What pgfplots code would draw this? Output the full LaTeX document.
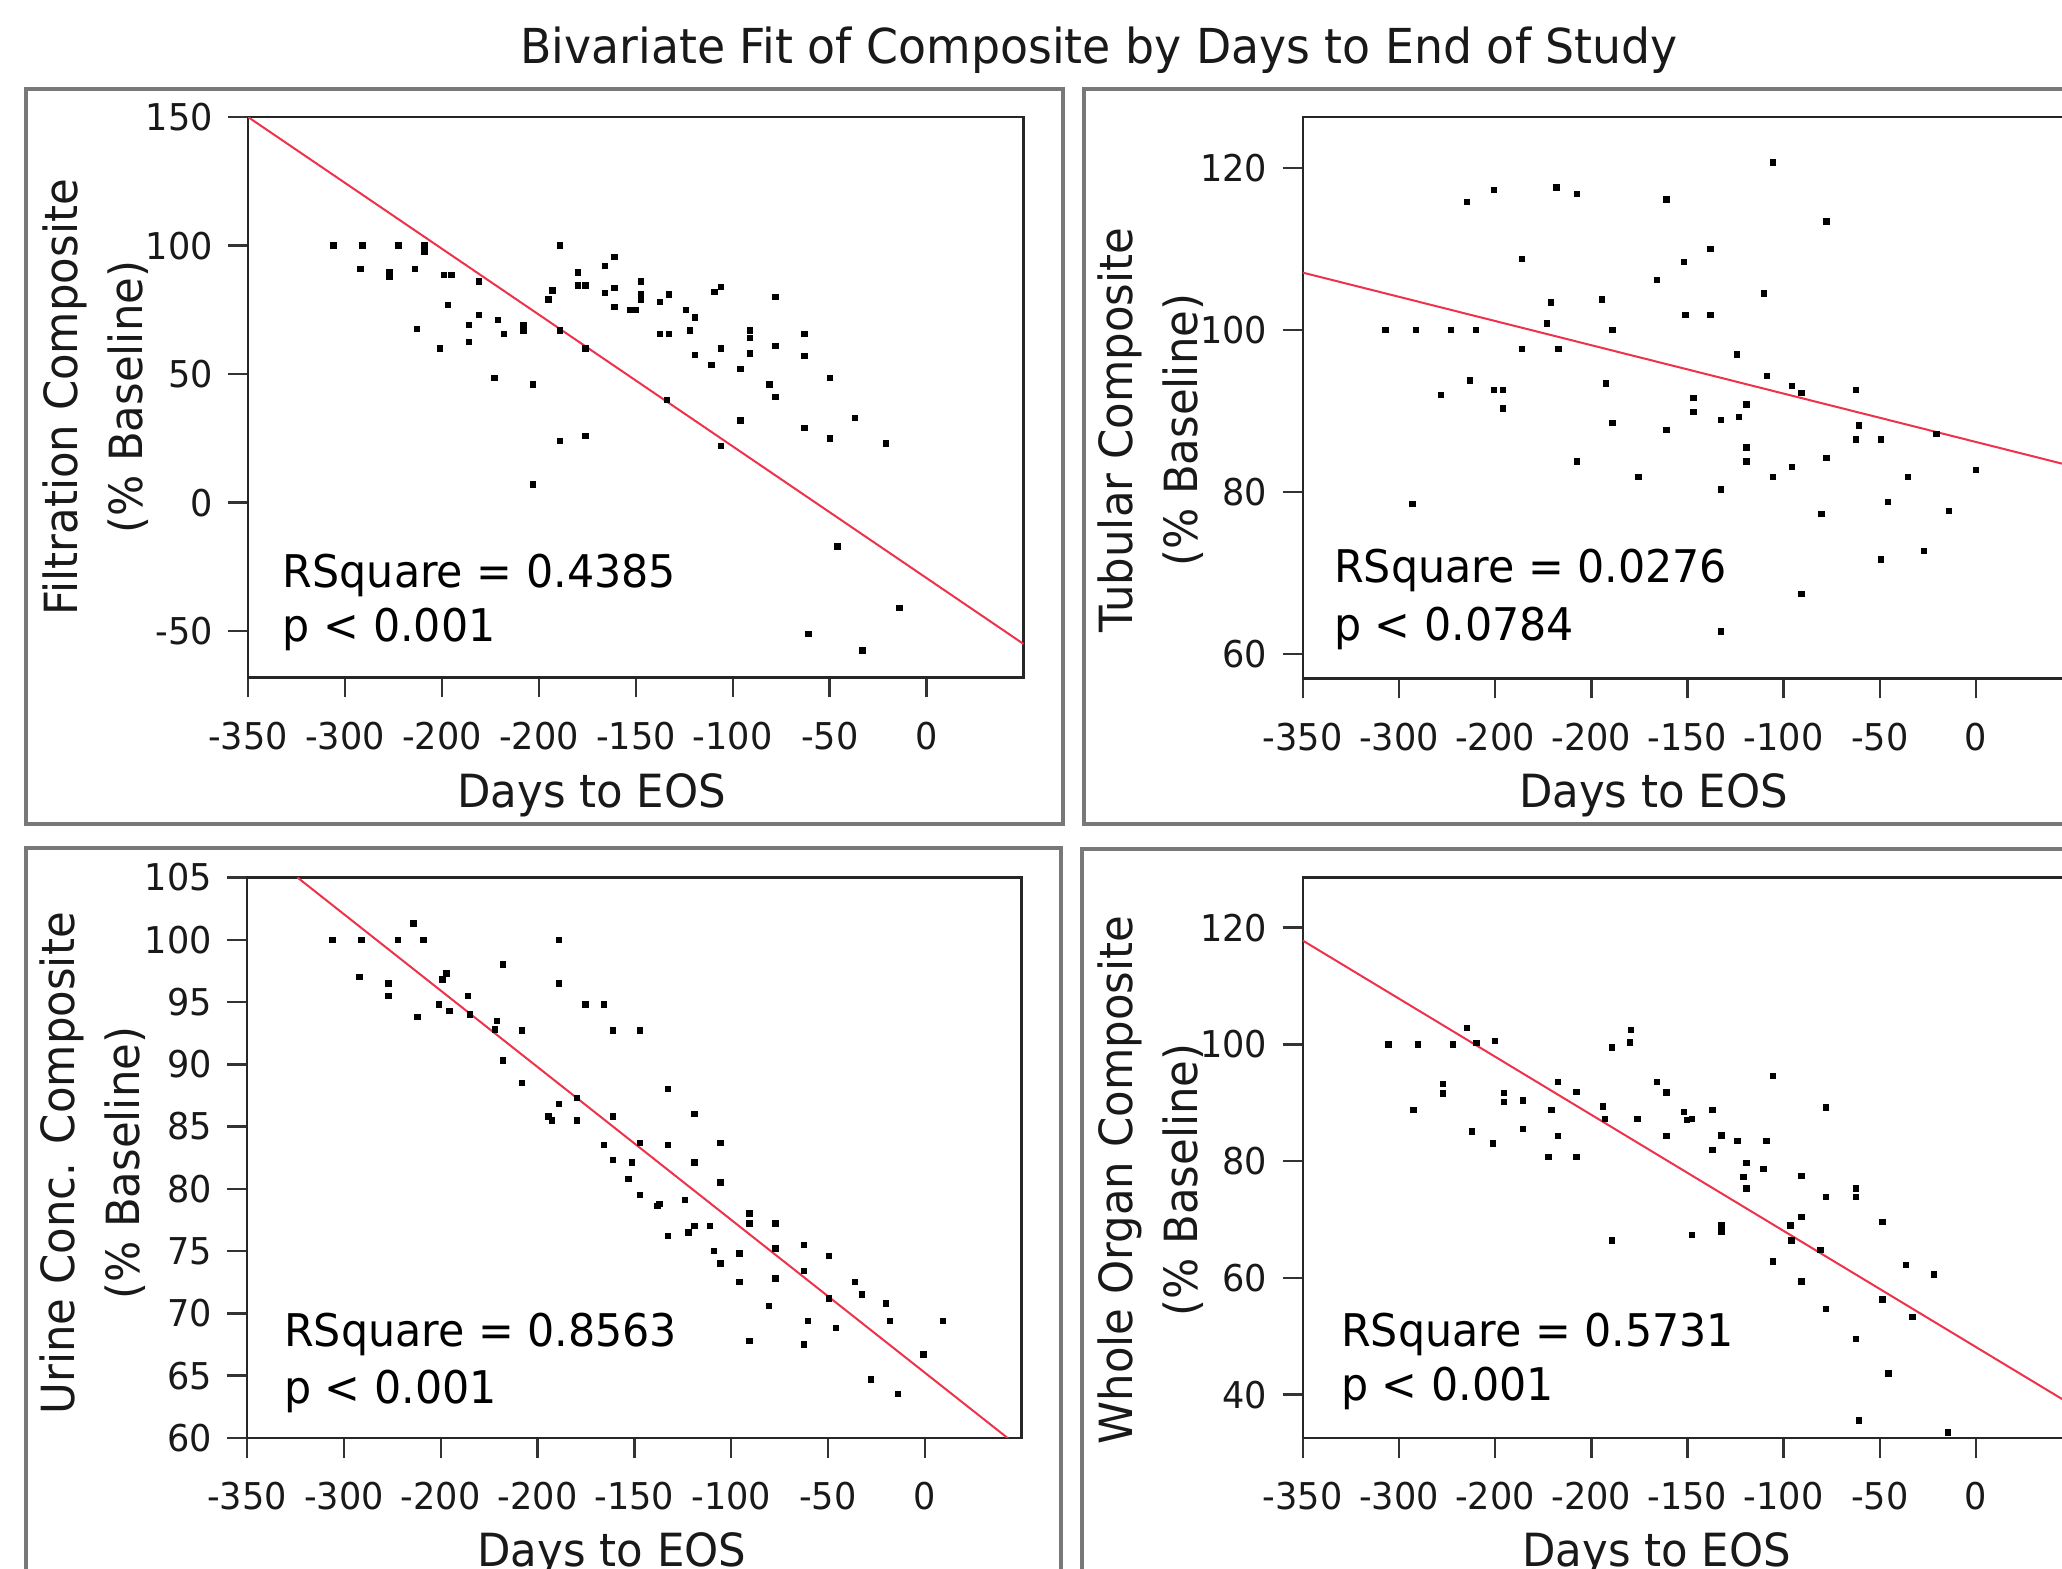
\documentclass[border=0pt]{standalone}
\usepackage{pgfplots}
\pgfplotsset{compat=1.18}
\usepackage{fontspec}
\setmainfont{DejaVu Sans}[FakeStretch=0.95]

\definecolor{fitred}{RGB}{238,50,75}
\definecolor{framegray}{RGB}{120,120,120}
\newcommand\annfont{\fontsize{12.8}{15}\selectfont}

\pgfplotsset{
  panel/.style={
    scale only axis, anchor=north west,
    xmin=-350, xmax=50,
    xtick={-350,-300,-250,-200,-150,-100,-50,0},
    xticklabels={-350,-300,-200,-200,-150,-100,-50,0},
    tick align=outside, xtick pos=left, ytick pos=left,
    major tick length=0.2cm,
    tick style={black!80, line width=0.025cm},
    axis line style={black!85, line width=0.025cm},
    ticklabel style={font=\fontsize{10.5}{12}\selectfont, text=black!90},
    xticklabel shift=0.12cm, yticklabel shift=0.03cm,
    label style={font=\fontsize{13}{18.5}\selectfont, text=black!90},
    ylabel style={align=center, anchor=center},
    xlabel style={anchor=base},
    xlabel={Days to EOS},
    clip=true,
  },
  dots/.style={only marks, mark=square*, mark size=0.025cm, black},
  fit/.style={no marks, fitred, line width=0.02cm},
}

\begin{document}
\begin{tikzpicture}[x=0.01cm,y=-0.01cm]
\useasboundingbox (0,0) rectangle (2062,1569);
\fill[white] (0,0) rectangle (2062,1569);
\clip (0,0) rectangle (2062,1569);

\node[anchor=base, font=\fontsize{13.7}{16}\selectfont, text=black!90] at (1099,63) {Bivariate Fit of Composite by Days to End of Study};

\draw[framegray, line width=0.045cm] (26,89) rectangle (1063,824);
\draw[framegray, line width=0.045cm] (1084,89) rectangle (2150,824);
\draw[framegray, line width=0.045cm] (26,848) rectangle (1061,1650);
\draw[framegray, line width=0.045cm] (1082,849) rectangle (2150,1650);

% ---------- Top left: Filtration ----------
\begin{axis}[panel, at={(2.48cm,-1.17cm)}, width=7.75cm, height=5.60cm,
  ymin=-68, ymax=150,
  ytick={-50,0,50,100,150}, yticklabels={-50,0,50,100,150},
  ylabel={Filtration Composite\\(\% Baseline)},
  ylabel style={at={(axis description cs:-0.197,0.5)}},
  xlabel style={at={(axis description cs:0.443,-0.232)}}]
\addplot[dots] coordinates {
(-306,100) (-291,100) (-272.5,100) (-259,100) (-189,100) (-259,97.5)
(-292,91) (-277,89.5) (-277,88) (-264,91) (-249,88.5) (-245,88.5) (-231,86)
(-193,82.5) (-195,79) (-189,67) (-180,84.5) (-176,84.5) (-180,89.5)
(-166,92) (-161,95.5) (-166,81.5) (-161,83.5) (-161,76)
(-153,75) (-150,75) (-147.5,86) (-147.5,81) (-147.5,79)
(-137.5,78) (-133,81) (-137.5,65.5) (-133,65.5)
(-124,75) (-122,67) (-119.5,72) (-119.5,57.5)
(-111,53.5) (-109.5,82) (-106,84) (-106,60) (-96,52) (-96,32) (-106,22)
(-91,67) (-91,64) (-91,58)
(-81,46) (-78,41) (-78,61) (-78,80)
(-63,65.5) (-63,57) (-63,29)
(-50,48.5) (-50,25) (-37,33) (-21,23)
(-46,-17) (-61,-51) (-33,-57.5) (-14,-41)
(-203,46) (-203,7) (-189,24) (-176,26) (-134,40)
(-263,67.5) (-251,60) (-247,77) (-236,69) (-236,62.5) (-231,73) (-223,48.5)
(-221,71) (-218,65.5) (-208,69) (-208,67) (-176,60)
};
\addplot[fit] coordinates {(-350,150) (50,-55)};
\node[anchor=base west, inner xsep=0pt, font=\annfont] at (rel axis cs:0.044,0.161) {RSquare = 0.4385};
\node[anchor=base west, inner xsep=0pt, font=\annfont] at (rel axis cs:0.044,0.064) {p < 0.001};
\end{axis}

% ---------- Top right: Tubular ----------
\begin{axis}[panel, at={(13.02cm,-1.17cm)}, width=7.69cm, height=5.61cm,
  ymin=57, ymax=126.3,
  ytick={60,80,100,120}, yticklabels={60,80,100,120},
  ylabel={Tubular Composite\\(\% Baseline)},
  ylabel style={at={(axis description cs:-0.198,0.442)}},
  xlabel style={at={(axis description cs:0.456,-0.23)}}]
\addplot[dots] coordinates {
(-307,100) (-291,100) (-273,100) (-260,100) (-293,78.5) (-278,92)
(-264.5,115.8) (-263,93.8) (-250.5,117.3) (-250.5,92.6) (-246,92.6) (-246,90.3)
(-236,108.8) (-236,97.7) (-221,103.4) (-223,100.8) (-218,117.6) (-217,97.7)
(-207.5,116.8) (-207.5,83.8) (-194.4,103.8) (-192.5,93.4) (-189,100) (-189,88.5)
(-175.5,81.9) (-165.7,106.2) (-160.8,116.1) (-160.8,87.7) (-151.7,108.4) (-151,101.9)
(-146.8,91.6) (-146.8,89.9) (-138,110) (-138,101.9) (-132.5,88.9) (-132.5,80.3)
(-132.5,62.8) (-124.3,97) (-123.3,89.3) (-119.4,90.8) (-119.4,85.5) (-119.4,83.8)
(-110.3,104.5) (-108.6,94.3) (-105.4,120.7) (-105.4,81.9) (-95.6,93.1) (-90.7,92.2)
(-95.6,83.1) (-90.7,67.4) (-80.3,77.3) (-77.7,113.4) (-77.7,84.2) (-62.3,92.6)
(-60.7,88.2) (-62.3,86.5) (-49.3,86.5) (-49.3,71.7) (-45.7,78.8) (-35.3,81.9)
(-27.1,72.7) (-20.6,87.2) (-14,77.7) (0,82.7)
};
\addplot[fit] coordinates {(-350,107.1) (50,83.2)};
\node[anchor=base west, inner xsep=0pt, font=\annfont] at (rel axis cs:0.040,0.17) {RSquare = 0.0276};
\node[anchor=base west, inner xsep=0pt, font=\annfont] at (rel axis cs:0.040,0.067) {p < 0.0784};
\end{axis}

% ---------- Bottom left: Urine Conc. ----------
\begin{axis}[panel, at={(2.47cm,-8.77cm)}, width=7.74cm, height=5.60cm,
  ymin=60, ymax=105,
  ytick={60,65,70,75,80,85,90,95,100,105},
  yticklabels={60,65,70,75,80,85,90,95,100,105},
  ylabel={Urine Conc. Composite\\(\% Baseline)},
  ylabel style={at={(axis description cs:-0.199,0.49)}},
  xlabel style={at={(axis description cs:0.471,-0.229)}}]
\addplot[dots] coordinates {
(-306,100) (-291,100) (-292,97.0) (-277,96.5) (-277,95.5) (-272,100)
(-264,101.3) (-262,93.8) (-259,100) (-249,96.8) (-247,97.3) (-251,94.8)
(-245.5,94.3) (-236,95.5) (-235,94) (-221,93.5) (-222,92.8) (-218,98.0)
(-218,90.3) (-208,92.7) (-208,88.5) (-194.4,85.8) (-192.6,85.5) (-189,100)
(-189,96.5) (-189,86.8) (-179.6,87.3) (-179.6,85.5) (-175.3,94.8) (-165.8,94.8)
(-165.8,83.5) (-161,92.7) (-161,85.8) (-161,82.3) (-153,80.8) (-151.3,82.1)
(-147,92.7) (-147,83.7) (-147,79.5) (-138,78.6) (-137,78.8) (-132.6,88.0)
(-132.6,83.5) (-132.6,76.2) (-123.8,79.1) (-122,76.5) (-119,86.0) (-119,82.1)
(-119,77.0) (-110.8,77.0) (-109,75.0) (-105.5,83.7) (-105.5,80.5) (-105.5,74.0)
(-95.6,74.8) (-95.6,72.5) (-90.6,78.0) (-90.6,77.2) (-90.6,67.8) (-80.4,70.6)
(-77.2,77.2) (-77.2,75.2) (-77.2,72.8) (-62.4,75.5) (-62.4,73.4) (-60.3,69.4)
(-62.4,67.5) (-49.4,74.6) (-49.4,71.2) (-45.8,68.8) (-36,72.5) (-32.4,71.5)
(-27.8,64.7) (-20,70.8) (-18,69.4) (-13.7,63.5) (-0.7,66.7) (9.5,69.4)
};
\addplot[fit] coordinates {(-324,105) (50,59.1)};
\node[anchor=base west, inner xsep=0pt, font=\annfont] at (rel axis cs:0.047,0.1625) {RSquare = 0.8563};
\node[anchor=base west, inner xsep=0pt, font=\annfont] at (rel axis cs:0.047,0.061) {p < 0.001};
\end{axis}

% ---------- Bottom right: Whole Organ ----------
\begin{axis}[panel, at={(13.02cm,-8.77cm)}, width=7.69cm, height=5.60cm,
  ymin=32.6, ymax=128.6,
  ytick={40,60,80,100,120}, yticklabels={40,60,80,100,120},
  ylabel={Whole Organ Composite\\(\% Baseline)},
  ylabel style={at={(axis description cs:-0.198,0.46)}},
  xlabel style={at={(axis description cs:0.46,-0.229)}}]
\addplot[dots] coordinates {
(-305.5,100) (-290,100) (-292.5,88.8) (-277,93.2) (-277,91.6) (-272,100)
(-264.5,102.8) (-262,85.1) (-259.7,100.2) (-250,100.6) (-251,83) (-245.4,91.7)
(-245.4,90.1) (-235.6,90.4) (-235.6,85.5) (-222.3,80.7) (-220.7,88.8) (-217.4,93.6)
(-217.4,84.3) (-207.6,80.7) (-207.6,91.9) (-194,89.4) (-193,87.2) (-189.1,99.5)
(-189.1,66.4) (-180,100.3) (-179.4,102.5) (-176,87.2) (-165.7,93.6) (-160.9,91.8)
(-160.9,84.3) (-151.8,88.4) (-150.1,87.1) (-147.5,87.2) (-147.5,67.4) (-137,88.8)
(-137,81.9) (-132.3,84.4) (-132.3,69) (-132.3,67.9) (-124.1,83.5) (-120.9,77.3)
(-119.3,79.7) (-119.3,75.3) (-110.5,78.7) (-108.9,83.5) (-105.6,94.6) (-105.6,62.8)
(-96.5,69) (-95.9,66.4) (-90.7,70.4) (-90.7,77.5) (-90.7,59.4) (-80.9,64.8)
(-78,54.7) (-78,89.2) (-78,73.9) (-62.4,75.3) (-62.4,73.9) (-62.4,49.5)
(-60.8,35.6) (-48.7,69.6) (-48.7,56.3) (-45.5,43.6) (-36.4,62.2) (-33.1,53.3)
(-21.8,60.6) (-14.6,33.5)
};
\addplot[fit] coordinates {(-350,117.8) (50,38.2)};
\node[anchor=base west, inner xsep=0pt, font=\annfont] at (rel axis cs:0.049,0.1625) {RSquare = 0.5731};
\node[anchor=base west, inner xsep=0pt, font=\annfont] at (rel axis cs:0.049,0.066) {p < 0.001};
\end{axis}
\end{tikzpicture}
\end{document}
